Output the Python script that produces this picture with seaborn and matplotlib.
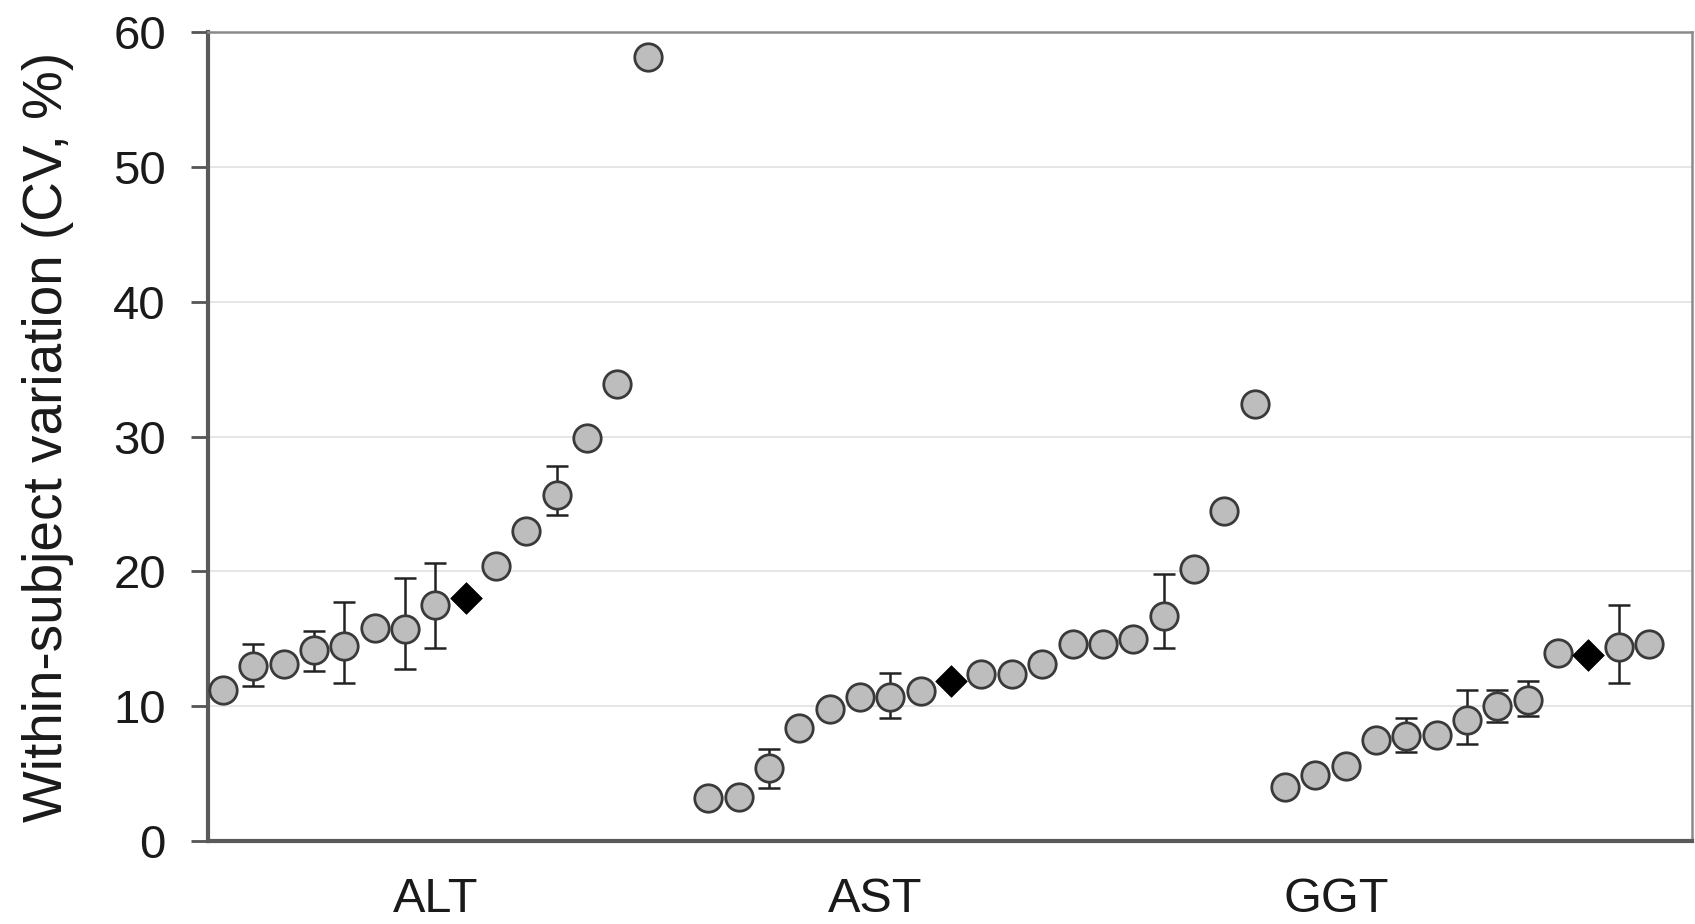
import numpy as np
import pandas as pd
import matplotlib
matplotlib.use("Agg")
import matplotlib.pyplot as plt
import seaborn as sns

# ---- data ----
groups = ["ALT", "AST", "GGT"]

alt_cv = [11.2, 13.0, 13.1, 14.2, 14.5, 15.8, 15.7, 17.5, 18.0, 20.4, 23.0, 25.7, 29.9, 33.9, 58.2]
alt_lo = [None, 11.5, None, 12.6, 11.7, None, 12.8, 14.3, None, None, None, 24.2, None, None, None]
alt_hi = [None, 14.6, None, 15.6, 17.7, None, 19.5, 20.6, None, None, None, 27.8, None, None, None]
alt_pooled = 8

ast_cv = [3.2, 3.3, 5.4, 8.35, 9.8, 10.7, 10.7, 11.1, 11.85, 12.4, 12.4, 13.1, 14.6, 14.6, 15.0, 16.7, 20.2, 24.5, 32.4]
ast_lo = [None, None, 3.95, None, None, None, 9.1, None, None, None, None, None, None, None, None, 14.3, None, None, None]
ast_hi = [None, None, 6.8, None, None, None, 12.5, None, None, None, None, None, None, None, None, 19.8, None, None, None]
ast_pooled = 8

ggt_cv = [4.0, 4.9, 5.55, 7.5, 7.8, 7.9, 9.0, 10.05, 10.5, 13.95, 13.8, 14.4, 14.6]
ggt_lo = [None, None, None, None, 6.6, None, 7.2, 8.8, 9.3, None, None, 11.7, None]
ggt_hi = [None, None, None, None, 9.1, None, 11.2, 11.2, 11.85, None, None, 17.5, None]
ggt_pooled = 10

y_ticks = [0, 10, 20, 30, 40, 50, 60]
y_label = "Within-subject variation (CV, %)"

# ---- layout ----
group_start = [0, 16, 35]
label_pos = [7, 21.5, 36.7]

rows = []
for g, start, cv, lo, hi, pooled in zip(
        groups, group_start,
        [alt_cv, ast_cv, ggt_cv], [alt_lo, ast_lo, ggt_lo], [alt_hi, ast_hi, ggt_hi],
        [alt_pooled, ast_pooled, ggt_pooled]):
    for i, v in enumerate(cv):
        rows.append(dict(group=g, x=start + i, cv=v,
                         lo=np.nan if lo[i] is None else lo[i],
                         hi=np.nan if hi[i] is None else hi[i],
                         kind="pooled" if i == pooled else "study"))
df = pd.DataFrame(rows)

sns.set_theme(style="white")
plt.rcParams["font.family"] = ["Liberation Sans", "DejaVu Sans"]

fig = plt.figure(figsize=(16.95, 9.24), dpi=100)
ax = fig.add_axes([0.1225, 0.0898, 0.8755, 0.8752])

# gridlines
for t in y_ticks[1:-1]:
    ax.axhline(t, color="#e2e2e2", lw=1.2, zorder=0)

# error bars
eb = df.dropna(subset=["lo"])
ax.errorbar(eb["x"], eb["cv"], yerr=[eb["cv"] - eb["lo"], eb["hi"] - eb["cv"]],
            fmt="none", ecolor="#222222", elinewidth=1.8, capsize=8, capthick=1.8, zorder=2)

sns.scatterplot(data=df[df["kind"] == "study"], x="x", y="cv", ax=ax,
                marker="o", s=390, color="#bdbdbd", edgecolor="#3a3a3a",
                linewidth=2.0, zorder=3, legend=False)
sns.scatterplot(data=df[df["kind"] == "pooled"], x="x", y="cv", ax=ax,
                marker="D", s=260, color="black", edgecolor="black",
                linewidth=0.5, zorder=4, legend=False)

ax.set_xlim(-0.5, 48.4)
ax.set_ylim(0, 60)
ax.set_yticks(y_ticks)
ax.set_yticklabels([str(t) for t in y_ticks], fontsize=34, color="#1a1a1a")
ax.set_xticks(label_pos)
ax.set_xticklabels(groups, fontsize=35, color="#1a1a1a")
ax.tick_params(axis="y", which="major", direction="out", length=12, width=2,
               color="#555555", pad=18, left=True)
ax.tick_params(axis="x", length=0, pad=26)
ax.set_xlabel("")
ax.set_ylabel(y_label, fontsize=39.5, color="#1a1a1a", labelpad=28)

for side in ["left", "bottom"]:
    ax.spines[side].set_color("#5a5a5a")
    ax.spines[side].set_linewidth(3)
for side in ["top", "right"]:
    ax.spines[side].set_color("#8a8a8a")
    ax.spines[side].set_linewidth(1.8)
for s in ax.spines.values():
    s.set_visible(True)

fig.savefig("out.png", dpi=100)
